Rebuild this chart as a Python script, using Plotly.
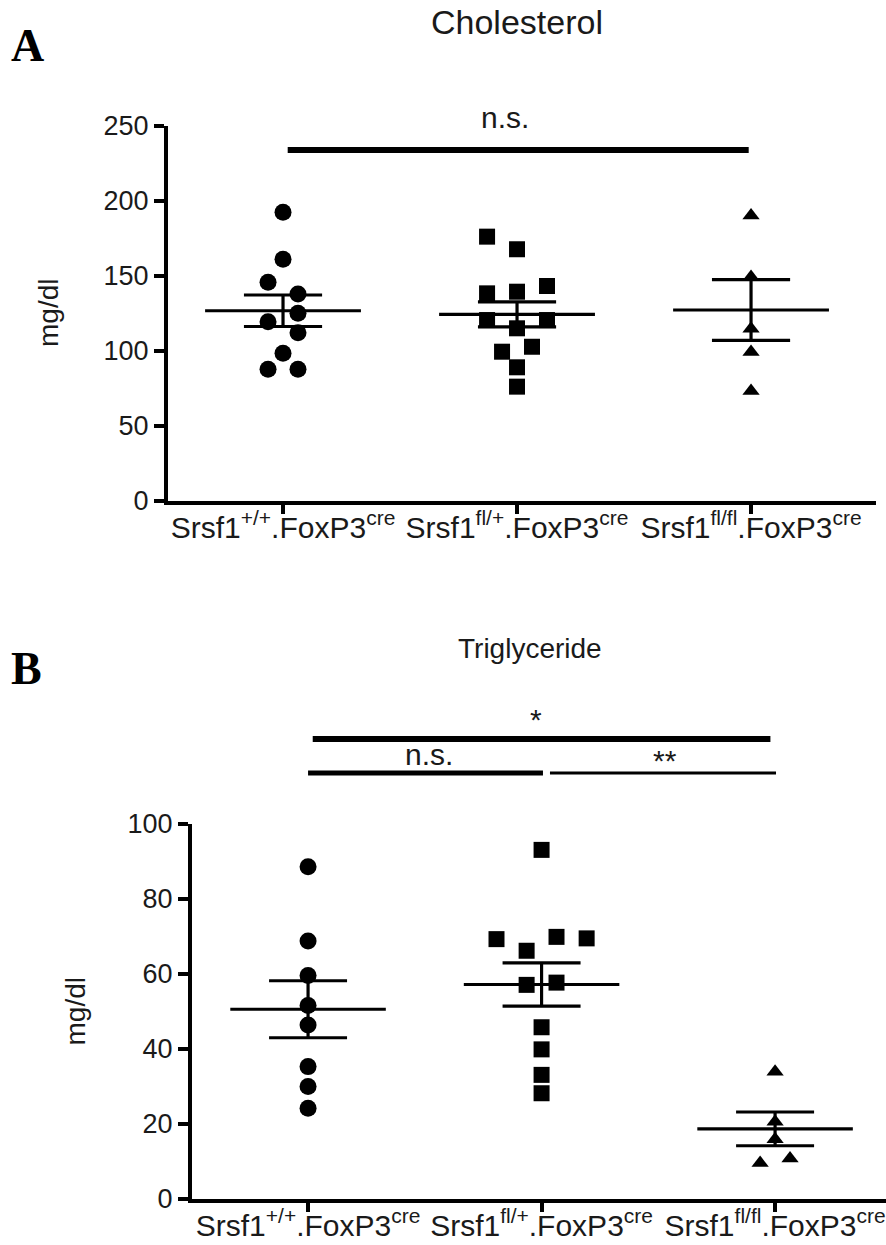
import plotly.graph_objects as go

W, H = 886, 1245

# ---------------- data ----------------
categories = ["Srsf1<sup>+/+</sup>.FoxP3<sup>cre</sup>",
              "Srsf1<sup>fl/+</sup>.FoxP3<sup>cre</sup>",
              "Srsf1<sup>fl/fl</sup>.FoxP3<sup>cre</sup>"]

# Cholesterol (mg/dl)
chol_wt = [192.1, 160.8, 145.5, 137.7, 124.8, 119.2, 111.9, 98.1, 87.5, 87.5]
chol_wt_dx = [0, 0, -0.064, 0.064, 0.064, -0.064, 0.064, 0, -0.064, 0.064]
chol_het = [175.9, 167.5, 143.0, 138.1, 139.2, 120.3, 120.3, 114.8, 102.5, 99.2, 88.8, 75.9]
chol_het_dx = [-0.128, 0, 0.128, -0.128, 0, -0.128, 0.128, 0, 0.064, -0.064, 0, 0]
chol_ko = [190.0, 149.0, 114.5, 99.0, 73.0]
chol_ko_dx = [0, 0, 0, 0, 0]
chol_mean = [126.5, 124.1, 127.0]
chol_sem = [10.5, 8.3, 20.3]

# Triglyceride (mg/dl)
tg_wt = [88.6, 68.8, 59.6, 51.6, 46.4, 35.3, 30.0, 24.2]
tg_wt_dx = [0, 0, 0, 0, 0, 0, 0, 0]
tg_het = [93.1, 69.3, 69.9, 69.5, 66.2, 57.1, 57.7, 45.8, 39.9, 33.1, 28.2]
tg_het_dx = [0, -0.193, 0.064, 0.193, -0.064, -0.064, 0.064, 0, 0, 0, 0]
tg_ko = [33.9, 20.6, 15.9, 10.8, 9.6]
tg_ko_dx = [0, 0, 0, 0.064, -0.064]
tg_mean = [50.6, 57.2, 18.7]
tg_sem = [7.6, 5.75, 4.5]

chol_ticks = [0, 50, 100, 150, 200, 250]
tg_ticks = [0, 20, 40, 60, 80, 100]

# significance brackets: (from group, to group, y value, line width)
chol_sig_lines = [(0.02, 1.99, 233.7, 6)]
chol_sig_text = [(0.95, 255, "n.s.")]
tg_sig_lines = [(0.02, 1.98, 122.7, 6), (0.0, 1.006, 113.6, 5), (1.036, 2.004, 113.6, 3)]
tg_sig_text = [(0.976, 128.0, "*"), (0.518, 118.5, "n.s."), (1.53, 117.0, "**")]

# ---------------- layout geometry ----------------
FONT = "Liberation Sans, Arial, sans-serif"
SERIF = "Liberation Serif, Times New Roman, serif"
TXT = "#1a1a1a"

top_xrange = [-0.4915, 2.534]
top_yrange = [0, 250]
bot_xrange = [-0.497, 2.475]
bot_yrange = [0, 100]

top_xdom = [168 / W, 876 / W]
top_ydom = [1 - 500.5 / H, 1 - 125.5 / H]
bot_xdom = [192 / W, 1.0]
bot_ydom = [1 - 1199 / H, 1 - 824 / H]

fig = go.Figure()

symbols = ["circle", "square", "triangle-up"]
sizes = [17, 16, 15]


def add_group(vals, dxs, gi, sym, size, xa, ya):
    fig.add_trace(go.Scatter(
        x=[gi + d for d in dxs], y=vals, mode="markers",
        marker=dict(symbol=sym, size=size, color="black", line=dict(width=0)),
        xaxis=xa, yaxis=ya, cliponaxis=False, showlegend=False,
        hoverinfo="y"))


def add_mean_sem(means, sems, xa, ya):
    for i, (m, s) in enumerate(zip(means, sems)):
        line = dict(color="black", width=3.2)
        fig.add_trace(go.Scatter(x=[i - 0.333, i + 0.333], y=[m, m], mode="lines",
                                 line=line, xaxis=xa, yaxis=ya, showlegend=False, hoverinfo="skip"))
        fig.add_trace(go.Scatter(x=[i, i], y=[m - s, m + s], mode="lines",
                                 line=line, xaxis=xa, yaxis=ya, showlegend=False, hoverinfo="skip"))
        for v in (m - s, m + s):
            fig.add_trace(go.Scatter(x=[i - 0.167, i + 0.167], y=[v, v], mode="lines",
                                     line=line, xaxis=xa, yaxis=ya, showlegend=False, hoverinfo="skip"))


# top panel
add_group(chol_wt, chol_wt_dx, 0, symbols[0], sizes[0], "x", "y")
add_group(chol_het, chol_het_dx, 1, symbols[1], sizes[1], "x", "y")
add_group(chol_ko, chol_ko_dx, 2, symbols[2], sizes[2], "x", "y")
add_mean_sem(chol_mean, chol_sem, "x", "y")

# bottom panel
add_group(tg_wt, tg_wt_dx, 0, symbols[0], sizes[0], "x2", "y2")
add_group(tg_het, tg_het_dx, 1, symbols[1], sizes[1], "x2", "y2")
add_group(tg_ko, tg_ko_dx, 2, symbols[2], sizes[2], "x2", "y2")
add_mean_sem(tg_mean, tg_sem, "x2", "y2")

axis_common = dict(showline=True, linecolor="black", linewidth=4, ticks="outside",
                   tickwidth=4, tickcolor="black", ticklen=10, showgrid=False,
                   zeroline=False, automargin=False,
                   tickfont=dict(family=FONT, size=27, color=TXT))

xcat = dict(tickvals=[0, 1, 2], ticktext=categories, ticklen=9, ticklabelstandoff=-12,
            tickfont=dict(family=FONT, size=30, color=TXT))

fig.update_layout(
    width=W, height=H, autosize=False,
    margin=dict(l=0, r=0, t=0, b=0, pad=0, autoexpand=False),
    paper_bgcolor="white", plot_bgcolor="white",
    xaxis=dict(axis_common, **xcat, domain=top_xdom, range=top_xrange, anchor="y"),
    yaxis=dict(axis_common, domain=top_ydom, range=top_yrange, tickvals=chol_ticks,
               anchor="x"),
    xaxis2=dict(axis_common, **xcat, domain=bot_xdom, range=bot_xrange, anchor="y2"),
    yaxis2=dict(axis_common, domain=bot_ydom, range=bot_yrange, tickvals=tg_ticks,
                anchor="x2"),
)


def xfrac(v, rng):
    return (v - rng[0]) / (rng[1] - rng[0])


def yfrac(v, rng):
    return (v - rng[0]) / (rng[1] - rng[0])


shapes = []
for (a, b, yv, lw) in chol_sig_lines:
    shapes.append(dict(type="line", xref="x domain", yref="y domain",
                       x0=xfrac(a, top_xrange), x1=xfrac(b, top_xrange),
                       y0=yfrac(yv, top_yrange), y1=yfrac(yv, top_yrange),
                       line=dict(color="black", width=lw)))
for (a, b, yv, lw) in tg_sig_lines:
    shapes.append(dict(type="line", xref="x2 domain", yref="y2 domain",
                       x0=xfrac(a, bot_xrange), x1=xfrac(b, bot_xrange),
                       y0=yfrac(yv, bot_yrange), y1=yfrac(yv, bot_yrange),
                       line=dict(color="black", width=lw)))
fig.update_layout(shapes=shapes)

ann = []
for (xv, yv, t) in chol_sig_text:
    ann.append(dict(x=xfrac(xv, top_xrange), y=yfrac(yv, top_yrange),
                    xref="x domain", yref="y domain", text=t, showarrow=False,
                    xanchor="center", yanchor="middle",
                    font=dict(family=FONT, size=30, color=TXT)))
for (xv, yv, t) in tg_sig_text:
    ann.append(dict(x=xfrac(xv, bot_xrange), y=yfrac(yv, bot_yrange),
                    xref="x2 domain", yref="y2 domain", text=t, showarrow=False,
                    xanchor="center", yanchor="middle",
                    font=dict(family=FONT, size=30, color=TXT)))

ann += [
    dict(x=xfrac(1.0, top_xrange), y=1 - 22 / H, xref="x domain", yref="paper",
         xanchor="center", yanchor="middle", text="Cholesterol", showarrow=False,
         font=dict(family=FONT, size=34, color=TXT)),
    dict(x=xfrac(0.95, bot_xrange), y=1 - 648 / H, xref="x2 domain", yref="paper",
         xanchor="center", yanchor="middle", text="Triglyceride", showarrow=False,
         font=dict(family=FONT, size=28, color=TXT)),
    dict(x=9 / W, y=1 - 45 / H, xref="paper", yref="paper", xanchor="left",
         yanchor="middle", text="<b>A</b>", showarrow=False,
         font=dict(family=SERIF, size=46, color="black")),
    dict(x=9 / W, y=1 - 668 / H, xref="paper", yref="paper", xanchor="left",
         yanchor="middle", text="<b>B</b>", showarrow=False,
         font=dict(family=SERIF, size=46, color="black")),
    dict(x=49 / W, y=0.5, xref="paper", yref="y domain", text="mg/dl",
         xanchor="center", yanchor="middle",
         textangle=-90, showarrow=False, font=dict(family=FONT, size=28, color=TXT)),
    dict(x=75 / W, y=0.5, xref="paper", yref="y2 domain", text="mg/dl",
         xanchor="center", yanchor="middle",
         textangle=-90, showarrow=False, font=dict(family=FONT, size=28, color=TXT)),
]
fig.update_layout(annotations=ann)

fig.write_html("out.html", config={"displayModeBar": False},
               post_script="document.body.style.margin='0';")
